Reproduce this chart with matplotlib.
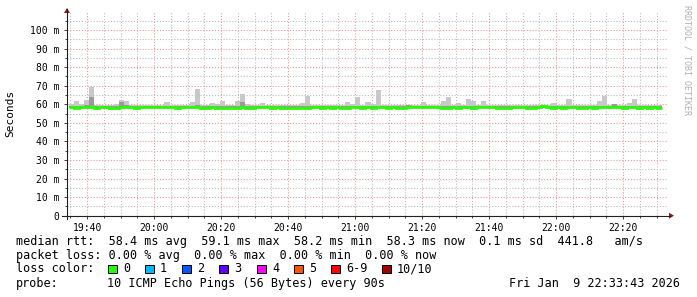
import matplotlib
matplotlib.use("Agg")
import matplotlib.pyplot as plt
from matplotlib.lines import Line2D
from matplotlib.patches import Polygon, Rectangle

# ---------------- data ----------------
# time axis: minutes after 19:34, step 90 s
STEP_MIN = 1.5
FIRST_STEP = 0.6
N_STEPS = 118

median_ms = [
    58.5, 58.2, 58.5, 58.5, 58.5, 58.2, 58.5, 58.5, 58.2, 58.2,
    58.5, 58.5, 58.5, 58.2, 58.5, 58.5, 58.5, 58.5, 58.5, 58.5,
    58.5, 58.2, 58.5, 58.5, 58.5, 58.5, 58.2, 58.2, 58.5, 58.2,
    58.2, 58.2, 58.2, 58.2, 58.5, 58.2, 58.2, 58.5, 58.5, 58.5,
    58.2, 58.5, 58.2, 58.2, 58.2, 58.2, 58.2, 58.2, 58.5, 58.5,
    58.2, 58.5, 58.2, 58.5, 58.2, 58.2, 58.5, 58.5, 58.2, 58.5,
    58.2, 58.5, 58.5, 58.2, 58.5, 58.2, 58.2, 58.5, 58.5, 58.5,
    58.5, 58.5, 58.5, 58.5, 58.2, 58.2, 58.5, 58.2, 58.5, 58.5,
    58.2, 58.5, 58.5, 58.5, 58.5, 58.2, 58.2, 58.2, 58.5, 58.5,
    58.5, 58.2, 58.2, 58.5, 59.1, 58.5, 58.2, 58.5, 58.2, 58.5,
    58.5, 58.2, 58.2, 58.5, 58.2, 58.5, 58.5, 58.5, 58.5, 58.5,
    58.2, 58.5, 58.5, 58.2, 58.5, 58.2, 58.5, 58.2,
]

smoke_max_ms = [
    60.0, 61.6, 60.0, 62.3, 69.3, 59.4, 59.4, 59.4, 59.4, 60.0,
    62.5, 62.0, 59.4, 59.4, 59.4, 59.8, 59.4, 59.4, 59.4, 61.0,
    59.4, 59.4, 59.4, 59.4, 61.0, 68.2, 59.4, 59.4, 60.5, 60.0,
    61.5, 59.4, 59.4, 61.8, 65.5, 60.0, 59.4, 59.4, 60.5, 59.4,
    59.4, 59.4, 59.4, 59.4, 59.4, 59.4, 60.5, 64.3, 59.4, 59.4,
    59.4, 59.8, 59.8, 59.8, 59.4, 61.0, 60.0, 64.0, 59.4, 61.0,
    60.0, 67.6, 59.4, 59.4, 59.4, 59.4, 59.4, 59.8, 59.4, 59.8,
    61.0, 59.4, 59.4, 59.4, 61.6, 64.0, 59.4, 60.5, 59.4, 62.6,
    62.0, 59.4, 61.6, 59.4, 59.4, 59.4, 59.4, 59.4, 59.8, 59.8,
    59.4, 59.8, 59.4, 59.4, 59.5, 59.4, 60.5, 59.4, 59.4, 62.6,
    59.4, 59.4, 59.4, 59.4, 59.4, 61.6, 64.3, 59.4, 60.2, 59.4,
    59.4, 60.5, 63.0, 59.4, 59.4, 59.4, 59.4, 59.4,
]

smoke_mid_ms = [
    59.0, 59.2, 59.0, 59.8, 64.0, 59.0, 59.0, 59.0, 59.0, 59.0,
    61.0, 59.5, 59.0, 59.0, 59.0, 59.0, 59.0, 59.0, 59.0, 59.0,
    59.0, 59.0, 59.0, 59.0, 59.2, 59.5, 59.0, 59.0, 59.0, 59.0,
    59.0, 59.0, 59.0, 59.2, 61.0, 59.0, 59.0, 59.0, 59.0, 59.0,
    59.0, 59.0, 59.0, 59.0, 59.0, 59.0, 59.0, 59.3, 59.0, 59.0,
    59.0, 59.0, 59.0, 59.0, 59.0, 59.0, 59.0, 59.3, 59.0, 59.0,
    59.0, 59.3, 59.0, 59.0, 59.0, 59.0, 59.0, 59.6, 59.0, 59.0,
    59.2, 59.0, 59.0, 59.0, 59.0, 59.3, 59.0, 59.0, 59.0, 59.2,
    59.0, 59.0, 59.0, 59.0, 59.0, 59.0, 59.0, 59.0, 59.0, 59.0,
    59.0, 59.0, 59.0, 59.0, 59.0, 59.0, 59.0, 59.0, 59.0, 59.2,
    59.0, 59.0, 59.0, 59.0, 59.0, 59.0, 59.3, 59.0, 60.2, 59.0,
    59.0, 59.0, 59.2, 59.0, 59.0, 59.0, 59.0, 59.0,
]
SMOKE_MIN_MS = 58.0

x_major_ticks = [6, 26, 46, 66, 86, 106, 126, 146, 166]
x_major_labels = ["19:40", "20:00", "20:20", "20:40", "21:00",
                  "21:20", "21:40", "22:00", "22:20"]
y_major_ticks = [0, 10, 20, 30, 40, 50, 60, 70, 80, 90, 100]
y_major_labels = ["0", "10 m", "20 m", "30 m", "40 m", "50 m",
                  "60 m", "70 m", "80 m", "90 m", "100 m"]

legend_lines = [
    "median rtt:  58.4 ms avg  59.1 ms max  58.2 ms min  58.3 ms now  0.1 ms sd  441.8   am/s",
    "packet loss: 0.00 % avg  0.00 % max  0.00 % min  0.00 % now",
]
loss_labels = ["0", "1", "2", "3", "4", "5", "6-9", "10/10"]
loss_colors = ["#26ff00", "#00b8ff", "#0059ff", "#5e00ff",
               "#ff00ff", "#ff5500", "#ff0000", "#a00000"]
probe_text = "10 ICMP Echo Pings (56 Bytes) every 90s"
date_text = "Fri Jan  9 22:33:43 2026"

# ---------------- figure ----------------
W, H = 697, 297
fig = plt.figure(figsize=(W / 100, H / 100), dpi=100)
fig.patch.set_facecolor("white")
MONO = "DejaVu Sans Mono"

def fx(px):
    return px / W

def fy(py):
    return 1 - py / H

X0, X1 = 67, 668
Y0, Y1 = 215.7, 11
ax = fig.add_axes([fx(X0), fy(Y0), (X1 - X0) / W, (Y0 - Y1) / H])
ax.set_xlim(0, (X1 - X0) / 3.35)
ax.set_ylim(0, (Y0 - Y1) / 1.857)

t_left = [FIRST_STEP + STEP_MIN * i for i in range(N_STEPS)]
edges = t_left + [t_left[-1] + STEP_MIN]

ax.bar(t_left, [m - SMOKE_MIN_MS for m in smoke_max_ms], bottom=SMOKE_MIN_MS,
       width=STEP_MIN, align="edge", color="#c8c8c8", linewidth=0, zorder=2)
ax.bar(t_left, [m - SMOKE_MIN_MS for m in smoke_mid_ms], bottom=SMOKE_MIN_MS,
       width=STEP_MIN, align="edge", color="#9a9a9a", linewidth=0, zorder=3)
ax.stairs(median_ms, edges, baseline=None, color="#26ff00", linewidth=2.0, zorder=4)

# grid
ax.set_xticks(x_major_ticks)
ax.set_xticklabels(x_major_labels, fontfamily=MONO, fontsize=7)
ax.set_xticks([1 + 5 * k for k in range(36)], minor=True)
ax.set_yticks(y_major_ticks)
ax.set_yticklabels(y_major_labels, fontfamily=MONO, fontsize=7)
ax.set_yticks([5 + 10 * k for k in range(11)], minor=True)
ax.grid(which="minor", color="#bcbcbc", linestyle=(0, (1, 1.6)), linewidth=0.8, zorder=0)
ax.grid(which="major", color="#f09a9a", linestyle=(0, (1, 1.6)), linewidth=0.8, zorder=1)
ax.set_axisbelow(True)
ax.tick_params(which="major", length=2.5, width=0.7, color="#404040", pad=3)
ax.tick_params(which="minor", length=1.5, width=0.7, color="#404040")
for s in ax.spines.values():
    s.set_visible(False)

# axis lines with arrows
fig.add_artist(Line2D([fx(62), fx(670)], [fy(Y0), fy(Y0)], color="#202020", lw=0.8))
fig.add_artist(Line2D([fx(X0), fx(X0)], [fy(219), fy(9)], color="#202020", lw=0.8))
fig.add_artist(Polygon([[fx(669), fy(212.7)], [fx(669), fy(218.7)], [fx(674), fy(215.7)]],
                       closed=True, color="#8b1a1a", lw=0))
fig.add_artist(Polygon([[fx(64), fy(13)], [fx(70), fy(13)], [fx(67), fy(8)]],
                       closed=True, color="#8b1a1a", lw=0))

# labels
fig.text(fx(10), fy(113), "Seconds", rotation=90, fontfamily=MONO, fontsize=8,
         ha="center", va="center")
fig.text(fx(687.5), fy(60), "RRDTOOL / TOBI OETIKER", rotation=270, fontfamily=MONO,
         fontsize=6, color="#b0b0b0", ha="center", va="center")

TXT = 8.5
fig.text(fx(16), fy(241), legend_lines[0], fontfamily=MONO, fontsize=TXT, va="center")
fig.text(fx(16), fy(255.5), legend_lines[1], fontfamily=MONO, fontsize=TXT, va="center")
fig.text(fx(16), fy(268.5), "loss color:", fontfamily=MONO, fontsize=TXT, va="center")
sq_x = [108, 145, 182, 219, 257, 294, 331, 382]
for sx, lab, col in zip(sq_x, loss_labels, loss_colors):
    fig.add_artist(Rectangle((fx(sx), fy(273)), 8.5 / W, 8.5 / H, facecolor=col,
                             edgecolor="black", linewidth=0.7))
    fig.text(fx(sx + 15), fy(268.5), lab, fontfamily=MONO, fontsize=TXT, va="center")
fig.text(fx(16), fy(283.5), "probe:", fontfamily=MONO, fontsize=TXT, va="center")
fig.text(fx(107), fy(283.5), probe_text, fontfamily=MONO, fontsize=TXT, va="center")
fig.text(fx(680), fy(283.5), date_text, fontfamily=MONO, fontsize=TXT, va="center", ha="right")

fig.savefig("out.png", dpi=100)
